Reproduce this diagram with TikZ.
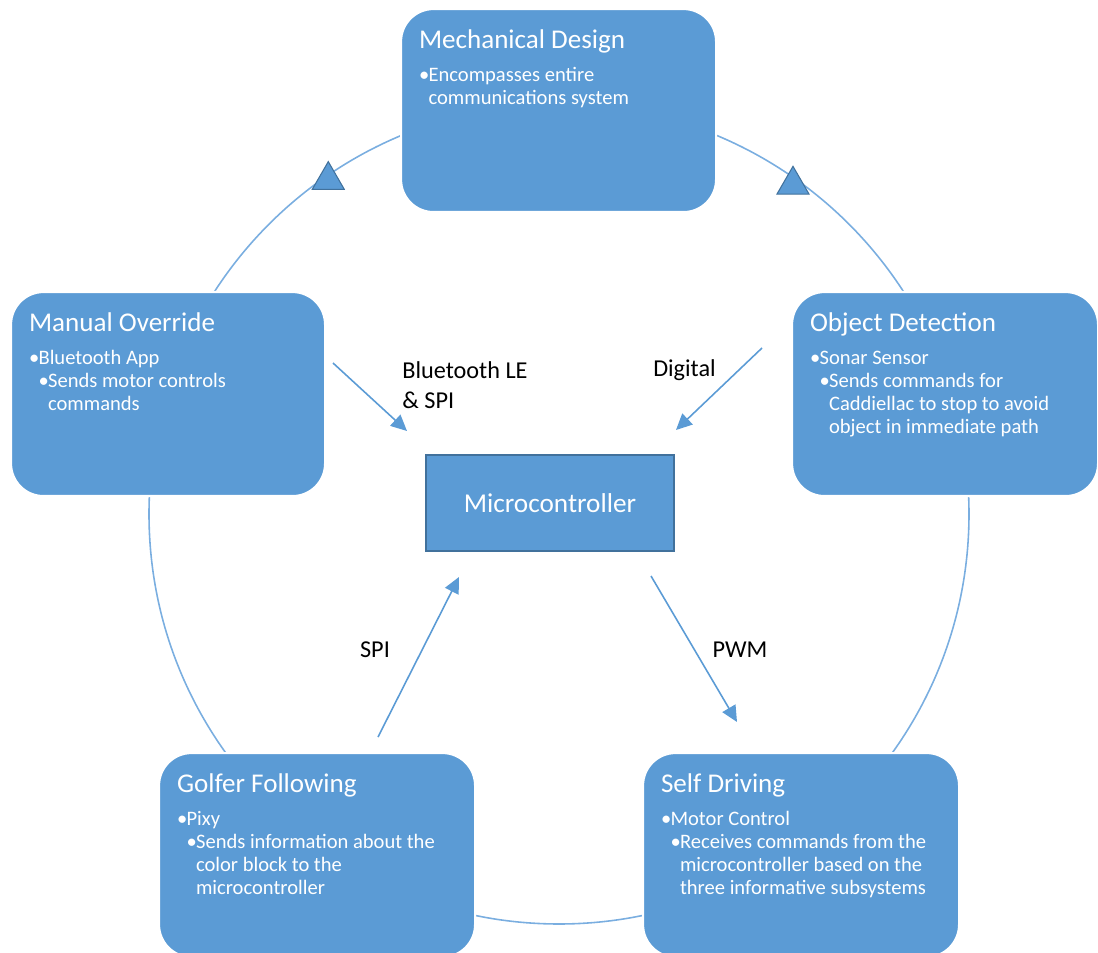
\documentclass[tikz,border=0pt]{standalone}
\usepackage{fontspec}
\setmainfont{Carlito}
\usetikzlibrary{arrows.meta,positioning,shapes.geometric}
\definecolor{cBlueF}{HTML}{5B9BD5}
\definecolor{cBlueD}{HTML}{41719C}
\definecolor{cRing}{HTML}{7AAEE0}
\newcommand{\ttl}[1]{{\fontsize{15.4}{19}\selectfont #1}\par\vspace{5.4pt}}
\newcommand{\lvlA}[1]{\par\noindent\hangindent=0.19cm\hangafter=1\makebox[0.19cm][l]{\textbullet}#1}
\newcommand{\lvlB}[1]{\par\noindent\hangindent=0.38cm\hangafter=1\hspace*{0.19cm}\makebox[0.19cm][l]{\textbullet}#1}
\newcommand{\boxbody}[3]{\parbox[c][#2][t]{#1}{\fontsize{11.7}{13.1}\selectfont\noindent #3}}
\tikzset{
  panel/.style  = {rounded corners=0.65cm, fill=cBlueF, draw=white, line width=1.2pt,
                   inner xsep=0.36cm, inner ysep=0.42cm, text=white, anchor=north west},
  hubbox/.style = {fill=cBlueF, draw=cBlueD, line width=0.8pt, text=white,
                   minimum width=4.96cm, minimum height=1.92cm, font=\fontsize{15.5}{18}\selectfont},
  ring/.style   = {cRing, line width=0.9pt},
  flow/.style   = {cBlueF, line width=0.9pt, -{Triangle[length=0.32cm,width=0.3cm]}},
  tri/.style    = {regular polygon, regular polygon sides=3, fill=cBlueF, draw=cBlueD,
                   line width=0.6pt, inner sep=0pt, minimum size=0.74cm},
  lbl/.style    = {align=left, inner sep=0pt, font=\fontsize{13.8}{17}\selectfont, text=black},
}

\begin{document}
\begin{tikzpicture}
  \useasboundingbox (0,0) rectangle (21.96,-19.06);
  % cycle ring
  \coordinate (hub) at (11.18,-10.28);
  \draw[ring] (hub) circle (8.2cm);
  \node[tri, xshift=0.03cm, yshift=-0.08cm] (triL) at ([shift={(124.5:8.2)}]hub) {};
  \node[tri, xshift=-0.07cm, yshift=-0.1cm] (triR) at ([shift={(54.6:8.2)}]hub) {};
  % subsystem panels
  \node[panel] (mech) at (8.0,-0.16) {\boxbody{5.58cm}{3.22cm}{\ttl{Mechanical Design}
    \lvlA{Encompasses entire\newline communications system}}};
  \node[panel] (manual) at (0.2,-5.82) {\boxbody{5.56cm}{3.24cm}{\ttl{Manual Override}
    \lvlA{Bluetooth App}
    \lvlB{Sends motor controls\newline commands}}};
  \node[panel] (object) at (15.82,-5.82) {\boxbody{5.4cm}{3.24cm}{\ttl{Object Detection}
    \lvlA{Sonar Sensor}
    \lvlB{Sends commands for\newline Caddiellac to stop to avoid\newline object in immediate path}}};
  \node[panel] (golfer) at (3.16,-15.04) {\boxbody{5.6cm}{3.24cm}{\ttl{Golfer Following}
    \lvlA{Pixy}
    \lvlB{Sends information about the\newline color block to the\newline microcontroller}}};
  \node[panel] (self) at (12.84,-15.04) {\boxbody{5.6cm}{3.24cm}{\ttl{Self Driving}
    \lvlA{Motor Control}
    \lvlB{Receives commands from the\newline microcontroller based on the\newline three informative subsystems}}};
  % centre
  \node[hubbox] (micro) at (11.0,-10.06) {Microcontroller};
  % links
  \coordinate (bleS) at (6.66,-7.26);
  \coordinate (bleE) at (8.14,-8.62);
  \coordinate (digS) at (15.24,-6.96);
  \coordinate (digE) at (13.52,-8.6);
  \coordinate (spiS) at (7.56,-14.74);
  \coordinate (spiE) at (9.18,-11.54);
  \coordinate (pwmS) at (13.02,-11.52);
  \coordinate (pwmE) at (14.74,-14.44);
  \draw[flow] (bleS) -- (bleE);
  \draw[flow] (digS) -- (digE);
  \draw[flow] (spiS) -- (spiE);
  \draw[flow] (pwmS) -- (pwmE);
  \node[lbl, anchor=west] (bleL) at (8.04,-7.7) {Bluetooth LE\\\& SPI};
  \node[lbl] (digL) at (13.69,-7.4) {Digital};
  \node[lbl] (spiL) at (7.5,-13.0) {SPI};
  \node[lbl] (pwmL) at (14.8,-13.0) {PWM};
\end{tikzpicture}
\end{document}
